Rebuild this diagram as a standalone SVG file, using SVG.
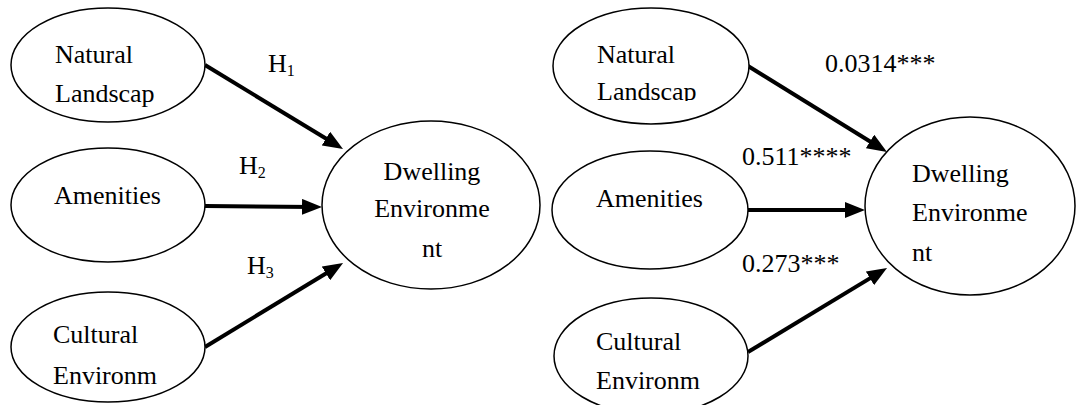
<svg xmlns="http://www.w3.org/2000/svg" width="1076" height="405" viewBox="0 0 1076 405">
<style>
.n{fill:#fff;stroke:#000;stroke-width:1.5}
text{font-family:'Liberation Serif','Times New Roman',serif;font-size:26px;fill:#000}
.s{font-size:16px}
.c{stroke:#000;stroke-width:4;fill:none;marker-end:url(#ah)}
</style>
<defs>
<marker id="ah" markerUnits="userSpaceOnUse" markerWidth="20" markerHeight="16" refX="12" refY="8" orient="auto">
<path d="M0,0 L20,8 L0,16 z" fill="#000"/>
</marker>
<clipPath id="clipL"><rect x="540" y="0" width="220" height="101"/></clipPath>
<clipPath id="clipC"><rect x="540" y="300" width="220" height="89"/></clipPath>
</defs>
<rect width="1076" height="405" fill="#fff"/>
<g id="connectors">
<line class="c" x1="205" y1="65" x2="336.2" y2="144.8"/>
<line class="c" x1="205" y1="206" x2="314" y2="207"/>
<line class="c" x1="205" y1="347" x2="336.2" y2="267.2"/>
<line class="c" x1="748" y1="66" x2="880.2" y2="147.8"/>
<line class="c" x1="748" y1="210" x2="857" y2="210"/>
<line class="c" x1="748" y1="352" x2="880.2" y2="272.1"/>
</g>
<g id="labels">
<text x="268" y="72">H<tspan class="s" dy="4">1</tspan></text>
<text x="239" y="174">H<tspan class="s" dy="4">2</tspan></text>
<text x="247" y="274">H<tspan class="s" dy="4">3</tspan></text>
<text x="825" y="72">0.0314***</text>
<text x="742" y="165">0.511****</text>
<text x="742" y="272">0.273***</text>
</g>
<g id="natural-left">
<ellipse class="n" cx="108" cy="65" rx="97" ry="57"/>
<text x="55" y="63">Natural</text>
<text x="55" y="102">Landscap</text>
</g>
<g id="amenities-left">
<ellipse class="n" cx="108" cy="205" rx="97" ry="57"/>
<text x="54" y="204">Amenities</text>
</g>
<g id="cultural-left">
<ellipse class="n" cx="108" cy="347" rx="97" ry="55"/>
<text x="53" y="343">Cultural</text>
<text x="53" y="384">Environm</text>
</g>
<g id="dwelling-left">
<ellipse class="n" cx="431" cy="205" rx="109" ry="84"/>
<text x="432" y="180" text-anchor="middle">Dwelling</text>
<text x="432" y="217" text-anchor="middle">Environme</text>
<text x="432" y="257" text-anchor="middle">nt</text>
</g>
<g id="natural-right">
<ellipse class="n" cx="651" cy="66" rx="98" ry="58"/>
<text x="597" y="63">Natural</text>
<text x="597" y="100" clip-path="url(#clipL)">Landscap</text>
</g>
<g id="amenities-right">
<ellipse class="n" cx="650" cy="210" rx="98" ry="59"/>
<text x="596" y="207">Amenities</text>
</g>
<g id="cultural-right">
<ellipse class="n" cx="651" cy="356" rx="97" ry="58"/>
<text x="596" y="350">Cultural</text>
<text x="596" y="389" clip-path="url(#clipC)">Environm</text>
</g>
<g id="dwelling-right">
<ellipse class="n" cx="970" cy="206" rx="105" ry="89"/>
<text x="912" y="182">Dwelling</text>
<text x="912" y="221">Environme</text>
<text x="912" y="261">nt</text>
</g>
</svg>
